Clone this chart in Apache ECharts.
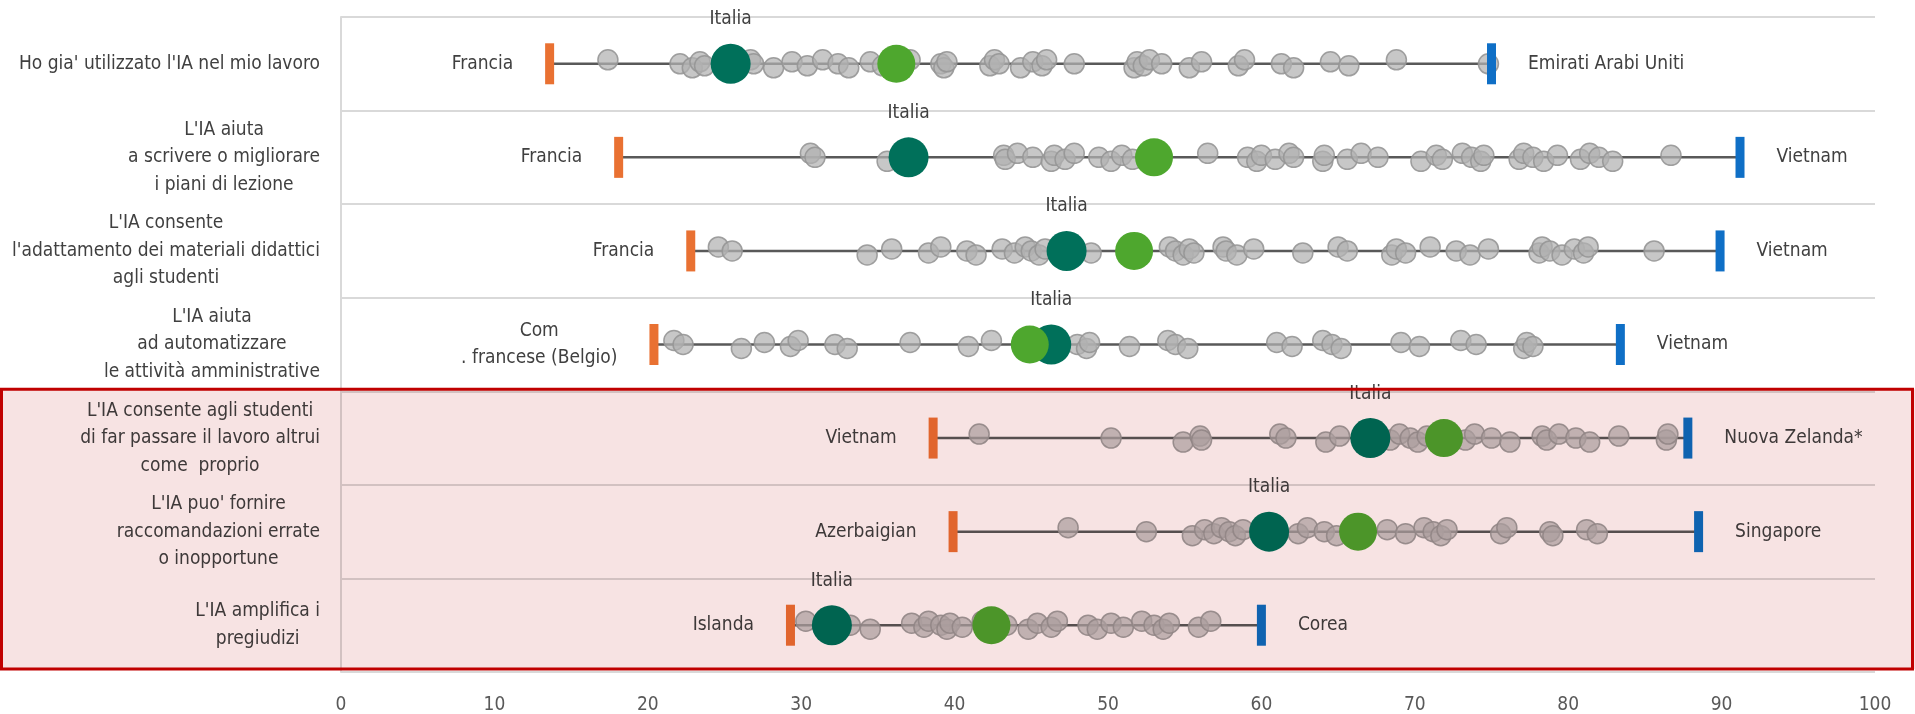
<!DOCTYPE html>
<html>
<head>
<meta charset="utf-8">
<script src="https://cdn.jsdelivr.net/npm/echarts@6/dist/echarts.min.js"></script>
<style>
html,body{margin:0;padding:0;background:#fff;}
#chart{width:1915px;height:714px;}
</style>
</head>
<body>
<div id="chart"></div>
<script>
// ---------------- DATA ----------------
const categories = [
  "Ho gia' utilizzato l'IA nel mio lavoro",
  "L'IA aiuta\na scrivere o migliorare\ni piani di lezione",
  "L'IA consente\nl'adattamento dei materiali didattici\nagli studenti",
  "L'IA aiuta\nad automatizzare\nle attività amministrative",
  "L'IA consente agli studenti\ndi far passare il lavoro altrui\ncome  proprio",
  "L'IA puo' fornire\nraccomandazioni errate\no inopportune",
  "L'IA amplifica i\npregiudizi"
];
const xTicks = [0, 10, 20, 30, 40, 50, 60, 70, 80, 90, 100];
const minValues = [13.6, 18.1, 22.8, 20.4, 38.6, 39.9, 29.3];
const maxValues = [75.0, 91.2, 89.9, 83.4, 87.8, 88.5, 60.0];
const minCountries = ["Francia", "Francia", "Francia", "Com\n. francese (Belgio)", "Vietnam", "Azerbaigian", "Islanda"];
const maxCountries = ["Emirati Arabi Uniti", "Vietnam", "Vietnam", "Vietnam", "Nuova Zelanda*", "Singapore", "Corea"];
const italiaValues = [25.4, 37.0, 47.3, 46.3, 67.1, 60.5, 32.0];
const averageValues = [36.2, 53.0, 51.7, 44.9, 71.9, 66.3, 42.4];

const countries1 = [17.4, 22.1, 22.9, 23.4, 23.7, 26.7, 26.9, 28.2, 29.4, 30.4, 31.4, 32.4, 33.1, 34.5, 35.3, 37.1, 39.1, 39.3, 39.5, 42.3, 42.6, 42.9, 44.3, 45.1, 45.7, 46.0, 47.8, 51.7, 51.9, 52.3, 52.7, 53.5, 55.3, 56.1, 58.5, 58.9, 61.3, 62.1, 64.5, 65.7, 68.8, 74.8];
const countries2 = [30.6, 30.9, 35.6, 43.2, 43.3, 44.1, 45.1, 46.3, 46.5, 47.2, 47.8, 49.4, 50.2, 50.9, 51.6, 56.5, 59.1, 59.7, 60.0, 60.9, 61.8, 62.1, 64.0, 64.1, 65.6, 66.5, 67.6, 70.4, 71.4, 71.8, 73.1, 73.7, 74.3, 74.5, 76.8, 77.1, 77.7, 78.4, 79.3, 80.8, 81.4, 82.0, 82.9, 86.7];
const countries3 = [24.6, 25.5, 34.3, 35.9, 38.3, 39.1, 40.8, 41.4, 43.1, 43.9, 44.6, 45.0, 45.5, 45.9, 48.9, 54.0, 54.4, 54.9, 55.3, 55.6, 57.5, 57.7, 58.4, 59.5, 62.7, 65.0, 65.6, 68.5, 68.8, 69.4, 71.0, 72.7, 73.6, 74.8, 78.1, 78.3, 78.8, 79.6, 80.4, 81.0, 81.3, 85.6];
const countries4 = [21.7, 22.3, 26.1, 27.6, 29.3, 29.8, 32.2, 33.0, 37.1, 40.9, 42.4, 48.0, 48.6, 48.8, 51.4, 53.9, 54.4, 55.2, 61.0, 62.0, 64.0, 64.6, 65.2, 69.1, 70.3, 73.0, 74.0, 77.1, 77.3, 77.7];
const countries5 = [41.6, 50.2, 54.9, 56.0, 56.1, 61.2, 61.6, 64.2, 65.1, 68.4, 69.0, 69.7, 70.2, 70.8, 73.3, 73.9, 75.0, 76.2, 78.3, 78.6, 79.4, 80.5, 81.4, 83.3, 86.4, 86.5];
const countries6 = [47.4, 52.5, 55.5, 56.3, 56.9, 57.4, 57.9, 58.3, 58.8, 62.4, 63.0, 64.1, 64.9, 68.2, 69.4, 70.6, 71.2, 71.7, 72.1, 75.6, 76.0, 78.8, 79.0, 81.2, 81.9];
const countries7 = [30.3, 33.2, 34.5, 37.2, 38.0, 38.3, 39.1, 39.5, 39.7, 40.5, 41.8, 43.4, 44.8, 45.4, 46.3, 46.7, 48.7, 49.3, 50.2, 51.0, 52.2, 53.0, 53.6, 54.0, 55.9, 56.7];
const countryRows = [countries1, countries2, countries3, countries4, countries5, countries6, countries7];
const highlightFrom = 4; // rows 5-7 are highlighted

// ---------------- CHART ----------------
const FONT = "'Liberation Sans Narrow', 'Arial Narrow', 'DejaVu Sans Condensed', sans-serif";
const FS = 19;
const TXT = '#404040';
const centerLines = s => s.split('\n').map(l => '{c|' + l + '}').join('\n');

const dotData = [];
countryRows.forEach((arr, r) => {
  arr.forEach((v, i) => {
    dotData.push({ value: [v, r], symbolOffset: [0, ((i * 7) % 5 - 2) * 2] });
  });
});

const chart = echarts.init(document.getElementById('chart'), null, { renderer: 'canvas' });

const option = {
  backgroundColor: '#ffffff',
  animation: false,
  grid: { left: 341, right: 40, top: 17, bottom: 42, containLabel: false, outerBoundsMode: 'none' },
  xAxis: {
    type: 'value', min: 0, max: 100, interval: 10,
    axisLine: { show: false }, axisTick: { show: false }, splitLine: { show: false },
    axisLabel: {
      margin: 24, color: '#595959', fontSize: FS, fontFamily: FONT,
      formatter: v => (xTicks.indexOf(v) >= 0 ? String(v) : '')
    }
  },
  yAxis: {
    type: 'category', inverse: true, data: categories,
    axisLine: { show: true, lineStyle: { color: '#d9d9d9', width: 2 } },
    axisTick: { show: false },
    splitLine: { show: true, lineStyle: { color: '#d9d9d9', width: 2 } },
    axisLabel: {
      margin: 21, align: 'right', color: TXT, fontSize: FS, fontFamily: FONT, lineHeight: 27.5,
      formatter: v => centerLines(v),
      rich: { c: { align: 'center', color: TXT, fontSize: FS, fontFamily: FONT, lineHeight: 27.5 } }
    }
  },
  series: [
    {
      type: 'custom', z: 1,
      data: minValues.map((m, i) => [m, maxValues[i], i]),
      encode: { x: [0, 1], y: 2 },
      renderItem: (params, api) => {
        const y = api.value(2);
        const p1 = api.coord([api.value(0), y]);
        const p2 = api.coord([api.value(1), y]);
        return { type: 'line', shape: { x1: p1[0], y1: p1[1], x2: p2[0], y2: p2[1] },
                 style: { stroke: '#595959', lineWidth: 2.5 } };
      }
    },
    {
      type: 'scatter', z: 2, symbol: 'circle', symbolSize: 20,
      data: dotData,
      itemStyle: { color: 'rgba(178,178,178,0.72)', borderColor: 'rgba(150,150,150,0.9)', borderWidth: 1.5, opacity: 1 }
    },
    {
      type: 'scatter', z: 3, symbol: 'rect', symbolSize: [9, 41],
      data: minValues.map((v, i) => [v, i]),
      itemStyle: { color: '#E97132', opacity: 1 },
      label: {
        show: true, position: 'left', distance: 32, color: TXT, fontSize: FS, fontFamily: FONT, lineHeight: 27,
        formatter: p => centerLines(minCountries[p.dataIndex]),
        rich: { c: { align: 'center', color: TXT, fontSize: FS, fontFamily: FONT, lineHeight: 27 } }
      }
    },
    {
      type: 'scatter', z: 3, symbol: 'rect', symbolSize: [9, 41],
      data: maxValues.map((v, i) => [v, i]),
      itemStyle: { color: '#0F6FC6', opacity: 1 },
      label: {
        show: true, position: 'right', distance: 32, color: TXT, fontSize: FS, fontFamily: FONT,
        formatter: p => maxCountries[p.dataIndex]
      }
    },
    {
      type: 'scatter', z: 4, symbol: 'circle', symbolSize: 40,
      data: italiaValues.map((v, i) => [v, i]),
      itemStyle: { color: '#00705A', opacity: 1 },
      label: {
        show: true, position: 'top', distance: 15, color: TXT, fontSize: FS, fontFamily: FONT,
        formatter: 'Italia'
      }
    },
    {
      type: 'scatter', z: 5, symbol: 'circle', symbolSize: 38,
      data: averageValues.map((v, i) => [v, i]),
      itemStyle: { color: '#4EA72E', opacity: 1 }
    }
  ]
};
chart.setOption(option);

// highlight box around rows 5-7, positioned through the category axis
const cA = chart.convertToPixel({ yAxisIndex: 0 }, highlightFrom);
const cB = chart.convertToPixel({ yAxisIndex: 0 }, highlightFrom + 1);
const band = cB - cA;
const cLast = chart.convertToPixel({ yAxisIndex: 0 }, categories.length - 1);
const boxTop = cA - band / 2 - 2;
const boxBottom = cLast + band / 2 - 3;
chart.setOption({
  graphic: [
    { type: 'rect', z: 100, silent: true,
      shape: { x: 0, y: boxTop, width: 1915, height: boxBottom - boxTop },
      style: { fill: '#f7e3e3', blend: 'multiply' } },
    { type: 'rect', z: 101, silent: true,
      shape: { x: 1.5, y: boxTop, width: 1911, height: boxBottom - boxTop },
      style: { fill: null, stroke: '#C00000', lineWidth: 3 } }
  ]
});
</script>
</body>
</html>
